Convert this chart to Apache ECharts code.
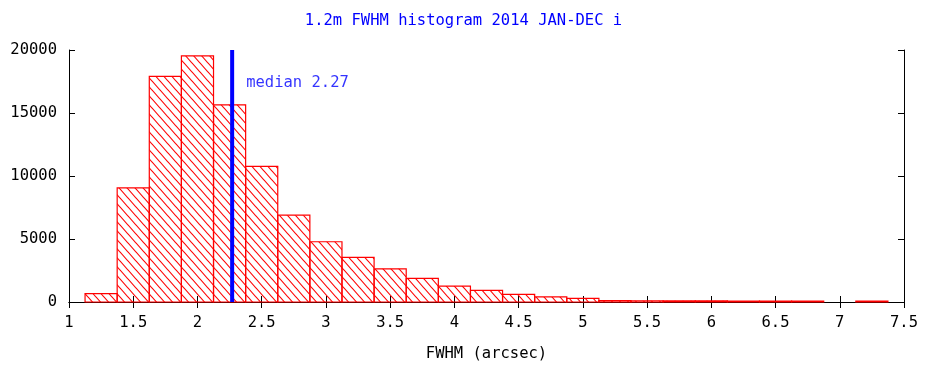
<!DOCTYPE html>
<html>
<head>
<meta charset="utf-8">
<script src="https://cdn.jsdelivr.net/npm/echarts@6/dist/echarts.min.js"></script>
<style>
  html, body { margin: 0; padding: 0; background: #fff; }
  #chart { width: 927px; height: 367px; }
</style>
</head>
<body>
<div id="chart"></div>
<script>
// FWHM histogram, 1.2m telescope, 2014 JAN-DEC, i band
const binCenters = [1.25, 1.5, 1.75, 2.0, 2.25, 2.5, 2.75, 3.0, 3.25, 3.5, 3.75, 4.0, 4.25,
                    4.5, 4.75, 5.0, 5.25, 5.5, 5.75, 6.0, 6.25, 6.5, 6.75, 7.0, 7.25];
const counts = [670, 9050, 17900, 19530, 15650, 10770, 6890, 4780, 3540, 2630, 1870, 1260, 920,
                610, 400, 290, 110, 100, 90, 90, 80, 80, 70, 0, 80];
const binWidth = 0.25;
const medianFwhm = 2.27;
const xTicks = { min: 1, max: 7.5, step: 0.5 };
const yTicks = { min: 0, max: 20000, step: 5000 };

const FONT = '"DejaVu Sans Mono", monospace';
const FS = 15.5;

// diagonal "\\" hatch tile
function hatchPattern() {
  const w = 8, h = 9;
  const c = document.createElement('canvas');
  c.width = w; c.height = h;
  const ctx = c.getContext('2d');
  ctx.strokeStyle = '#ff0000';
  ctx.lineWidth = 1.1;
  for (let k = -1; k <= 1; k++) {
    ctx.beginPath();
    ctx.moveTo(k * w - w * 0.5, -h * 0.5);
    ctx.lineTo(k * w + w * 1.5, h * 1.5);
    ctx.stroke();
  }
  return { image: c, repeat: 'repeat' };
}
const hatch = hatchPattern();

const chart = echarts.init(document.getElementById('chart'), null, { renderer: 'canvas' });

const axisCommon = {
  axisLine: { show: true, lineStyle: { color: '#000', width: 1 } },
  axisTick: { show: true, inside: true, length: 6, lineStyle: { color: '#000', width: 1 } },
  splitLine: { show: false }
};

chart.setOption({
  animation: false,
  backgroundColor: '#fff',
  title: {
    text: '1.2m FWHM histogram 2014 JAN-DEC i',
    left: 'center',
    top: 8,
    textStyle: { color: '#0000ff', fontFamily: FONT, fontSize: FS, fontWeight: 'normal' }
  },
  grid: { left: 69, right: 23, top: 50, bottom: 64 },
  xAxis: [
    Object.assign({
      type: 'value', position: 'bottom',
      min: xTicks.min, max: xTicks.max, interval: xTicks.step,
      name: 'FWHM (arcsec)', nameLocation: 'middle', nameGap: 44,
      nameTextStyle: { color: '#000', fontFamily: FONT, fontSize: FS },
      axisLabel: { color: '#000', fontFamily: FONT, fontSize: FS, margin: 13,
                   showMinLabel: true, showMaxLabel: true,
                   formatter: v => String(v) }
    }, axisCommon),
    Object.assign({
      type: 'value', position: 'top',
      min: xTicks.min, max: xTicks.max, interval: xTicks.step,
      axisLabel: { show: false }
    }, axisCommon)
  ],
  yAxis: [
    Object.assign({
      type: 'value', position: 'left',
      min: yTicks.min, max: yTicks.max, interval: yTicks.step,
      axisLabel: { color: '#000', fontFamily: FONT, fontSize: FS, margin: 12,
                   formatter: v => String(v) }
    }, axisCommon),
    Object.assign({
      type: 'value', position: 'right',
      min: yTicks.min, max: yTicks.max, interval: yTicks.step,
      axisLabel: { show: false }
    }, axisCommon)
  ],
  series: [
    {
      type: 'custom',
      z: 3,
      data: binCenters.map((c, i) => [c, counts[i]]),
      renderItem: function (params, api) {
        const c = api.value(0), v = api.value(1);
        if (!v) return null;
        const p0 = api.coord([c - binWidth / 2, v]);
        const p1 = api.coord([c + binWidth / 2, 0]);
        return {
          type: 'rect',
          shape: { x: p0[0], y: p0[1], width: p1[0] - p0[0], height: p1[1] - p0[1] },
          style: { fill: hatch, stroke: '#ff0000', lineWidth: 1.2 }
        };
      }
    },
    {
      type: 'line',
      z: 4,
      data: [[medianFwhm, yTicks.min], [medianFwhm, yTicks.max]],
      symbol: 'none',
      lineStyle: { color: '#0000ff', width: 4 }
    },
    {
      type: 'scatter',
      z: 5,
      symbolSize: 0,
      data: [[medianFwhm, 17350]],
      label: {
        show: true,
        position: 'right',
        distance: 14,
        formatter: () => 'median ' + medianFwhm.toFixed(2),
        color: '#0000ff',
        fontFamily: FONT,
        fontSize: FS
      }
    }
  ]
});
</script>
</body>
</html>
